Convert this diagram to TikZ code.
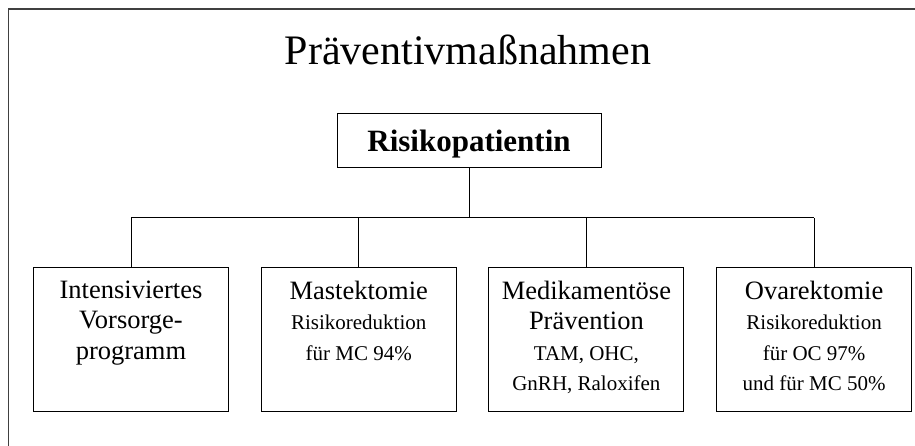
\documentclass[tikz,border=0pt]{standalone}
\usepackage{fontspec}
\setmainfont{Liberation Serif}
\usetikzlibrary{positioning}
\newcommand{\bigtxt}{\fontsize{26.5}{30.5}\selectfont}
\newcommand{\smtxt}{\fontsize{21}{30.5}\selectfont}

\begin{document}
\begin{tikzpicture}[
  x=1pt, y=-1pt,
  node distance=31.7pt,
  root/.style={rectangle, draw, line width=1pt, minimum width=264pt, minimum height=54pt, text depth=0pt, font=\fontsize{31}{36}\selectfont\bfseries},
  box/.style={rectangle, draw, line width=1pt, minimum width=195pt, minimum height=143pt, inner sep=0pt},
  boxtext/.style={anchor=north, inner sep=0pt, align=center, font=\bigtxt},
  conn/.style={line width=1pt}
]
  \useasboundingbox (0,0) rectangle (915,446);

  % frame (top and left only)
  \draw[line width=1.6pt, black!75] (8.5,446) -- (8.5,9) -- (915,9);

  \node[anchor=base, font=\fontsize{42}{48}\selectfont] (title) at (468,65) {Präventivmaßnahmen};
  \node[root] (patient) at (469,141) {Risikopatientin};

  \node[box] (vorsorge) at (131,339.5) {};
  \node[box, right=of vorsorge] (mastek) {};
  \node[box, right=of mastek] (medik) {};
  \node[box, right=of medik] (ovar) {};

  \node[boxtext, below=13pt of vorsorge.north] (vorsorge-txt) {Intensiviertes\\Vorsorge-\\programm};
  \node[boxtext, below=13pt of mastek.north] (mastek-txt) {Mastektomie\\\smtxt Risikoreduktion\\\smtxt für MC 94\%};
  \node[boxtext, below=13pt of medik.north] (medik-txt) {Medikamentöse\\Prävention\\\smtxt TAM, OHC,\\\smtxt GnRH, Raloxifen};
  \node[boxtext, below=13pt of ovar.north] (ovar-txt) {Ovarektomie\\\smtxt Risikoreduktion\\\smtxt für OC 97\%\\\smtxt und für MC 50\%};

  % tree connectors
  \coordinate (bar) at (469,218);
  \draw[conn] (patient.south) -- (bar);
  \draw[conn] (vorsorge.north |- bar) -- (ovar.north |- bar);
  \foreach \b in {vorsorge, mastek, medik, ovar}
    \draw[conn] (\b.north) -- (\b.north |- bar);
\end{tikzpicture}
\end{document}
